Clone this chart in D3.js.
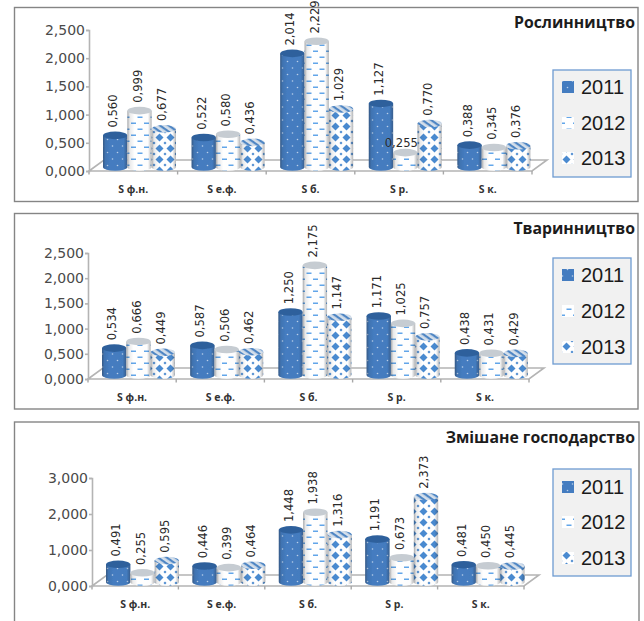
<!DOCTYPE html>
<html>
<head>
<meta charset="utf-8">
<style>
html, body { margin: 0; padding: 0; background: #fff; }
svg { display: block; }
text { font-family: "DejaVu Sans", sans-serif; }
.axis path, .axis line { stroke: #b4b4b4; stroke-width: 1.6px; fill: none; }
.axis text { font-family: "DejaVu Sans", sans-serif; font-size: 14px; fill: #4a4a4a; }
.cat { font-family: "Open Sans", sans-serif; font-size: 10.5px; font-weight: 700; fill: #333; text-anchor: middle; }
.title { font-family: "Open Sans", sans-serif; font-size: 15.8px; font-weight: 700; fill: #1c1c1c; text-anchor: end; }
.val { font-size: 11.6px; fill: #2a2a2a; }
.leg { font-family: "Liberation Sans", sans-serif; font-size: 20px; fill: #1a1a1a; }
</style>
<script src="https://cdn.jsdelivr.net/npm/d3@7"></script>
</head>
<body>
<svg id="chart" width="644" height="621"></svg>
<script>
var categories = ["S ф.н.", "S е.ф.", "S б.", "S р.", "S к."];
var years = ["2011", "2012", "2013"];

var crop2011 = [0.560, 0.522, 2.014, 1.127, 0.388];
var crop2012 = [0.999, 0.580, 2.229, 0.255, 0.345];
var crop2013 = [0.677, 0.436, 1.029, 0.770, 0.376];

var stock2011 = [0.534, 0.587, 1.250, 1.171, 0.438];
var stock2012 = [0.666, 0.506, 2.175, 1.025, 0.431];
var stock2013 = [0.449, 0.462, 1.147, 0.757, 0.429];

var mixed2011 = [0.491, 0.446, 1.448, 1.191, 0.481];
var mixed2012 = [0.255, 0.399, 1.938, 0.673, 0.450];
var mixed2013 = [0.595, 0.464, 1.316, 2.373, 0.445];

var ticks25 = [0, 0.5, 1, 1.5, 2, 2.5];
var ticks3 = [0, 1, 2, 3];

var panels = [
    { title: "Рослинництво", series: [crop2011, crop2012, crop2013], ticks: ticks25,
      frame: [14.5, 7.5, 638, 201.5], x: [89, 532], y: [171, 30],
      legend: [553, 70, 631, 177], legendY: [87, 123, 158], titleY: 28, catY: 193, flat: "3-1" },
    { title: "Тваринництво", series: [stock2011, stock2012, stock2013], ticks: ticks25,
      frame: [14.5, 213.5, 638, 409], x: [88, 529], y: [379, 253],
      legend: [553, 258, 631, 364], legendY: [275, 311, 347], titleY: 234, catY: 401 },
    { title: "Змішане господарство", series: [mixed2011, mixed2012, mixed2013], ticks: ticks3,
      frame: [14.5, 422, 639, 640], x: [92, 524], y: [586, 478],
      legend: [553, 469, 631, 576], legendY: [487, 522, 558], titleY: 443, catY: 608 }
];

var svg = d3.select("#chart");
var comma = d3.formatLocale({ decimal: ",", thousands: " ", grouping: [3], currency: ["", ""] }).format(".3f");

var defs = svg.append("defs");

function makePattern(id, w, h, bg) {
    var p = defs.append("pattern").attr("id", id).attr("patternUnits", "userSpaceOnUse")
        .attr("width", w).attr("height", h);
    p.append("rect").attr("width", w).attr("height", h).attr("fill", bg);
    return p;
}

var p2011 = makePattern("fill2011", 10, 13, "#447cc0");
[[2.5, 3], [7.5, 9.5]].forEach(function (c) {
    p2011.append("circle").attr("cx", c[0]).attr("cy", c[1]).attr("r", 0.8).attr("fill", "#b9d0ea");
});

var p2012 = makePattern("fill2012", 13, 12, "#ffffff");
[[1, 2.5], [7.5, 8.5]].forEach(function (c) {
    p2012.append("rect").attr("x", c[0]).attr("y", c[1]).attr("width", 5).attr("height", 1.5)
        .attr("fill", "#62a6ea");
});

var p2013 = makePattern("fill2013", 11, 11, "#ffffff");
p2013.append("path").attr("d", "M5.5 1.5L9.5 5.5L5.5 9.5L1.5 5.5Z").attr("fill", "#4a8ad0");
[[0, 0], [11, 0], [0, 11], [11, 11]].forEach(function (c) {
    p2013.append("path").attr("d", "M0 -1.5L1.5 0L0 1.5L-1.5 0Z").attr("fill", "#4a8ad0")
        .attr("transform", "translate(" + c[0] + "," + c[1] + ")");
});

var hatch = makePattern("hatch2013", 5, 5, "#d5dfea").attr("patternTransform", "rotate(35)");
hatch.append("rect").attr("width", 5).attr("height", 2.2).attr("fill", "#4f86c4");

var shade = defs.append("linearGradient").attr("id", "shade");
[[0, 0.4], [0.1, 0.1], [0.3, 0], [0.85, 0.01], [1, 0.34]].forEach(function (s) {
    shade.append("stop").attr("offset", s[0]).attr("stop-color", "#20242a").attr("stop-opacity", s[1]);
});

defs.append("filter").attr("id", "soft").append("feGaussianBlur").attr("stdDeviation", 0.35);

var topFill = ["#2f619c", "#c6ccd2", "url(#hatch2013)"];

function drawPanel(p) {
    var g = svg.append("g");

    g.append("rect")
        .attr("x", p.frame[0]).attr("y", p.frame[1])
        .attr("width", p.frame[2] - p.frame[0]).attr("height", p.frame[3] - p.frame[1])
        .attr("fill", "#fff").attr("stroke", "#858585").attr("stroke-width", 1.4);

    var x = d3.scaleBand().domain(categories).range(p.x);
    var y = d3.scaleLinear().domain(d3.extent(p.ticks)).range(p.y);
    var inner = d3.scaleBand().domain(d3.range(years.length)).range([14, 14 + 73]);

    // floor
    var x0 = p.x[0], x1 = p.x[1], y0 = p.y[0];
    g.append("path")
        .attr("d", "M" + x0 + " " + y0 + "L" + (x0 + 15) + " " + (y0 - 11) + "L" + (x1 + 15) + " " + (y0 - 11) + "L" + x1 + " " + y0 + "Z")
        .attr("fill", "#fff").attr("stroke", "#b4b4b4").attr("stroke-width", 1.6);

    var xTicks = categories.map(function (c) { return x(c); }).concat([x1]);
    g.selectAll("line.xt").data(xTicks).enter().append("line")
        .attr("x1", function (d) { return d; }).attr("x2", function (d) { return d; })
        .attr("y1", y0).attr("y2", y0 + 3.5)
        .attr("stroke", "#a8a8a8").attr("stroke-width", 1.4);

    g.append("g").attr("class", "axis")
        .attr("transform", "translate(" + x0 + ",0)")
        .call(d3.axisLeft(y).tickValues(p.ticks).tickFormat(comma).tickSize(3).tickPadding(1));

    g.selectAll("text.cat").data(categories).enter().append("text")
        .attr("class", "cat")
        .attr("x", function (d) { return x(d) + x.bandwidth() / 2; })
        .attr("y", p.catY)
        .text(function (d) { return d; });

    g.append("text").attr("class", "title").attr("x", 635).attr("y", p.titleY).text(p.title);

    var rx = inner.bandwidth() / 2, ry = 3.8, lift = 4;
    var marks = g.append("g").attr("filter", "url(#soft)");
    var labels = g.append("g");

    p.series.forEach(function (values, s) {
        values.forEach(function (v, i) {
            var left = x(categories[i]) + inner(s);
            var w = inner.bandwidth();
            var top = y(v) - lift;
            var base = y0 - lift;
            var body = "M" + left + " " + top + "L" + left + " " + base +
                "A" + rx + " " + ry + " 0 0 0 " + (left + w) + " " + base +
                "L" + (left + w) + " " + top + "Z";

            marks.append("path").attr("d", body).attr("fill", "url(#fill" + years[s] + ")");
            marks.append("path").attr("d", body).attr("fill", "url(#shade)");
            marks.append("ellipse")
                .attr("cx", left + rx).attr("cy", top).attr("rx", rx).attr("ry", ry)
                .attr("fill", topFill[s]);

            var cx = left + rx - 2, labelEnd = top - ry - 4;
            if (p.flat === i + "-" + s) {
                // this one label sits flat in the reference, over the neighbouring bar
                labels.append("text").attr("class", "val")
                    .attr("x", cx - 2).attr("y", labelEnd - 2)
                    .attr("text-anchor", "middle").attr("dominant-baseline", "central")
                    .text(comma(v));
            } else {
                labels.append("text").attr("class", "val")
                    .attr("transform", "translate(" + cx + "," + labelEnd + ") rotate(-90)")
                    .attr("dominant-baseline", "central")
                    .text(comma(v));
            }
        });
    });

    // legend
    g.append("rect")
        .attr("x", p.legend[0]).attr("y", p.legend[1])
        .attr("width", p.legend[2] - p.legend[0]).attr("height", p.legend[3] - p.legend[1])
        .attr("fill", "#f1f1f1").attr("stroke", "#6e9bd1").attr("stroke-width", 1.3);

    years.forEach(function (yr, s) {
        g.append("rect")
            .attr("x", p.legend[0] + 9).attr("y", p.legendY[s] - 6)
            .attr("width", 12).attr("height", 12)
            .attr("fill", "url(#fill" + yr + ")");
        g.append("text").attr("class", "leg")
            .attr("x", p.legend[0] + 28).attr("y", p.legendY[s] + 7)
            .text(yr);
    });
}

panels.forEach(drawPanel);
</script>
</body>
</html>
